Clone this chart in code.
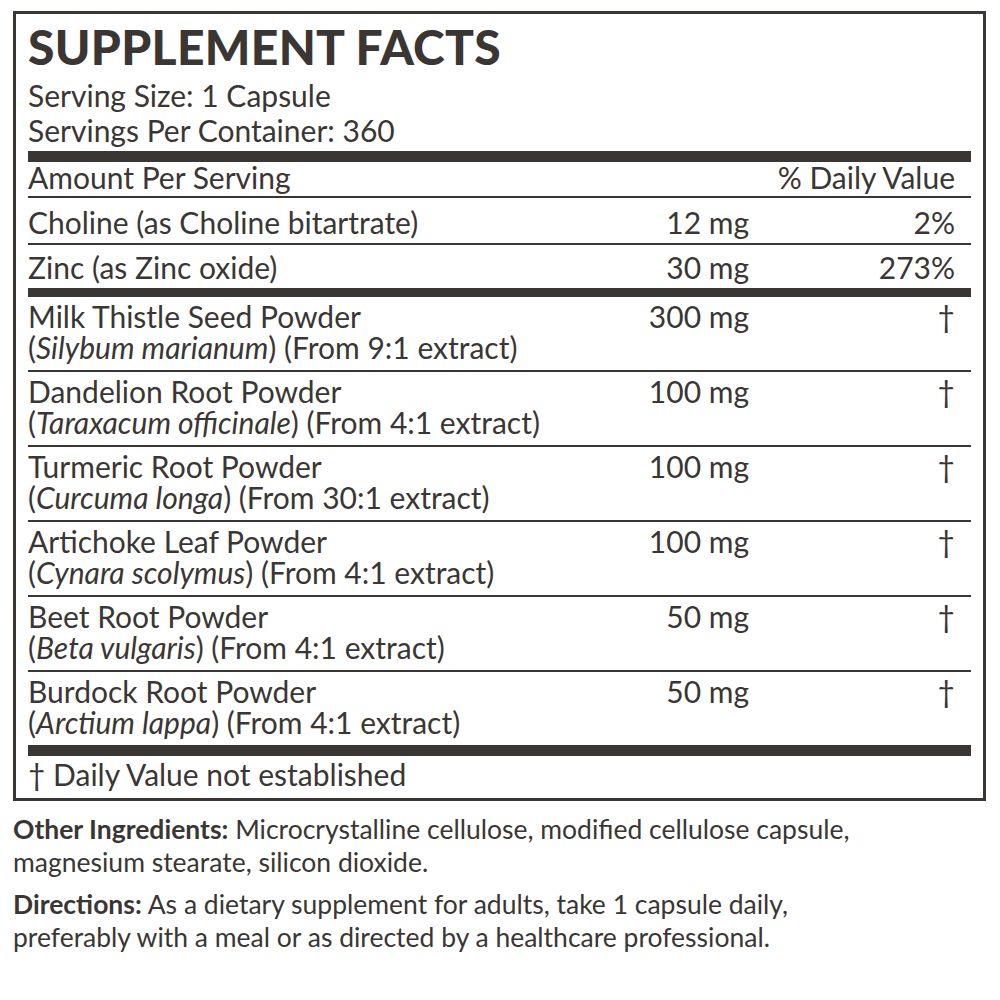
<!DOCTYPE html>
<html><head><meta charset="utf-8">
<script src="https://cdn.jsdelivr.net/npm/chart.js"></script>
<style>
body{margin:0;background:#fff;font-family:Lato,"Open Sans",sans-serif;color:#3a3633;}
#box{position:absolute;left:13px;top:11px;width:967px;height:784px;border:3px solid #3a3633;}
h1{margin:0;position:absolute;left:12px;top:4px;font-size:48px;font-weight:900;letter-spacing:0.3px;}
.t{font-size:30px;line-height:31px;white-space:nowrap;}
.bar{position:absolute;left:12px;right:12px;background:#3a3633;}
.row{position:absolute;left:12px;right:12px;}
.amt{position:absolute;right:222px;top:0;}
.dv{position:absolute;right:16px;top:0;}
.below{position:absolute;left:13px;font-size:26.5px;line-height:33px;white-space:nowrap;}
</style></head><body>
<div id="box"></div>
<canvas id="c" width="1" height="1" style="position:absolute;left:0;top:0"></canvas>
<div id="label"></div>
<script>
const nutrients = ['Choline (as Choline bitartrate)', 'Zinc (as Zinc oxide)'];
const nutrientAmounts = ['12 mg', '30 mg'];
const nutrientDV = ['2%', '273%'];
const herbs = ['Milk Thistle Seed Powder', 'Dandelion Root Powder', 'Turmeric Root Powder', 'Artichoke Leaf Powder', 'Beet Root Powder', 'Burdock Root Powder'];
const herbLatin = ['Silybum marianum', 'Taraxacum officinale', 'Curcuma longa', 'Cynara scolymus', 'Beta vulgaris', 'Arctium lappa'];
const herbExtract = ['9:1', '4:1', '30:1', '4:1', '4:1', '4:1'];
const herbAmounts = ['300 mg', '100 mg', '100 mg', '100 mg', '50 mg', '50 mg'];

const box = document.getElementById('box');
let html = '<h1>SUPPLEMENT FACTS</h1>';
html += '<div class="row t" style="top:66px">Serving Size: 1 Capsule</div>';
html += '<div class="row t" style="top:101px">Servings Per Container: 360</div>';
html += '<div class="bar" style="top:137px;height:11px"></div>';
html += '<div class="row t" style="top:148px">Amount Per Serving<span class="dv">% Daily Value</span></div>';
html += '<div class="bar" style="top:182px;height:2px"></div>';
nutrients.forEach((n, i) => {
  const y = 193 + i * 45;
  html += `<div class="row t" style="top:${y}px">${n}<span class="amt">${nutrientAmounts[i]}</span><span class="dv">${nutrientDV[i]}</span></div>`;
  if (i === 0) html += `<div class="bar" style="top:${y + 36}px;height:2px"></div>`;
});
html += '<div class="bar" style="top:274px;height:9px"></div>';
herbs.forEach((h, i) => {
  const y = 287 + i * 75;
  html += `<div class="row t" style="top:${y}px">${h}<span class="amt">${herbAmounts[i]}</span><span class="dv">†</span></div>`;
  html += `<div class="row t" style="top:${y + 31}px">(<i>${herbLatin[i]}</i>) (From ${herbExtract[i]} extract)</div>`;
  if (i < herbs.length - 1) html += `<div class="bar" style="top:${y + 69}px;height:2px"></div>`;
});
html += '<div class="bar" style="top:731px;height:11px"></div>';
html += '<div class="row t" style="top:745px">† Daily Value not established</div>';
box.innerHTML = html;

document.getElementById('label').innerHTML =
  '<div class="below" style="top:813px"><b>Other Ingredients:</b> Microcrystalline cellulose, modified cellulose capsule,<br>magnesium stearate, silicon dioxide.</div>' +
  '<div class="below" style="top:888px"><b>Directions:</b> As a dietary supplement for adults, take 1 capsule daily,<br>preferably with a meal or as directed by a healthcare professional.</div>';
</script>
</body></html>
